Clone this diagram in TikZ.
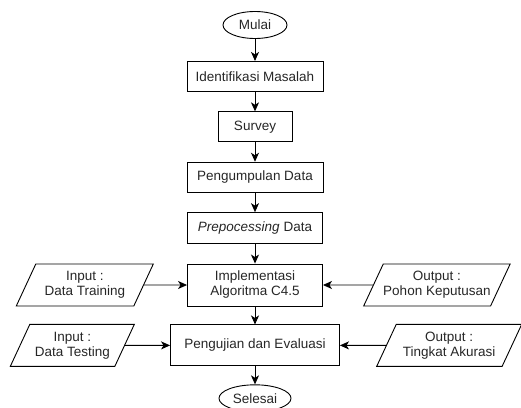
\documentclass[tikz,border=0pt]{standalone}
\usepackage{fontspec}
\setmainfont{Liberation Sans}
\usetikzlibrary{positioning, shapes.geometric, arrows.meta}

\begin{document}
\begin{tikzpicture}[
	node distance = 19.5pt and 45pt,
	->,>={Stealth[length=9pt,width=8pt,inset=2.5pt]},line width=0.9pt,
	every node/.style = {font=\fontsize{13.5}{15}\selectfont, text=black!85},
	box/.style = {rectangle, draw, minimum width=#1,
		minimum height=30pt, align=center},
	term/.style = {ellipse, draw, minimum width=#1, minimum height=27pt},
	io/.style = {trapezium, trapezium left angle=60, trapezium right angle=120,
		trapezium stretches body, draw, inner xsep=0pt, minimum width=#1,
		minimum height=42pt, align=center}
	]
	\path[use as bounding box, clip] (0,0) rectangle (521pt,-407pt);
	
	\node (mulai) [term=64pt] at (255pt,-25pt) {Mulai};
	\node (ident) [box=136pt,below=22pt of mulai] {Identifikasi Masalah};
	\node (survey) [box=74pt,below=of ident] {Survey};
	\node (kumpul) [box=136pt,below=of survey] {Pengumpulan Data};
	\node (prepro) [box=135pt,minimum height=31pt,below=of kumpul] {\textit{Prepocessing} Data};
	\node (impl) [box=135pt,minimum height=42pt,below=of prepro] {Implementasi\\Algoritma C4.5};
	\node (uji) [box=169pt,minimum height=41pt,below=18pt of impl] {Pengujian dan Evaluasi};
	\node (selesai) [term=70pt,below=18pt of uji] {Selesai};
	\node (train) [io=137pt,left=43pt of impl] {Input :\\Data Training};
	\node (pohon) [io=144pt,right=50pt of impl] {Output :\\Pohon Keputusan};
	\node (test) [io=124pt,left=45pt of uji] {Input :\\Data Testing};
	\node (akurasi) [io=145pt,right=46pt of uji] {Output :\\Tingkat Akurasi};
	%
	\draw[->] (mulai) -- (ident);
	\draw[->] (ident) -- (survey);
	\draw[->] (survey) -- (kumpul);
	\draw[->] (kumpul) -- (prepro);
	\draw[->] (prepro) -- (impl);
	\draw[->] (impl) -- (uji);
	\draw[->] (uji) -- (selesai);
	\draw[->] (train) -- (impl);
	\draw[->] (pohon) -- (impl);
	\draw[->] (test) -- (uji);
	\draw[->] (akurasi) -- (uji);
\end{tikzpicture}
\end{document}
